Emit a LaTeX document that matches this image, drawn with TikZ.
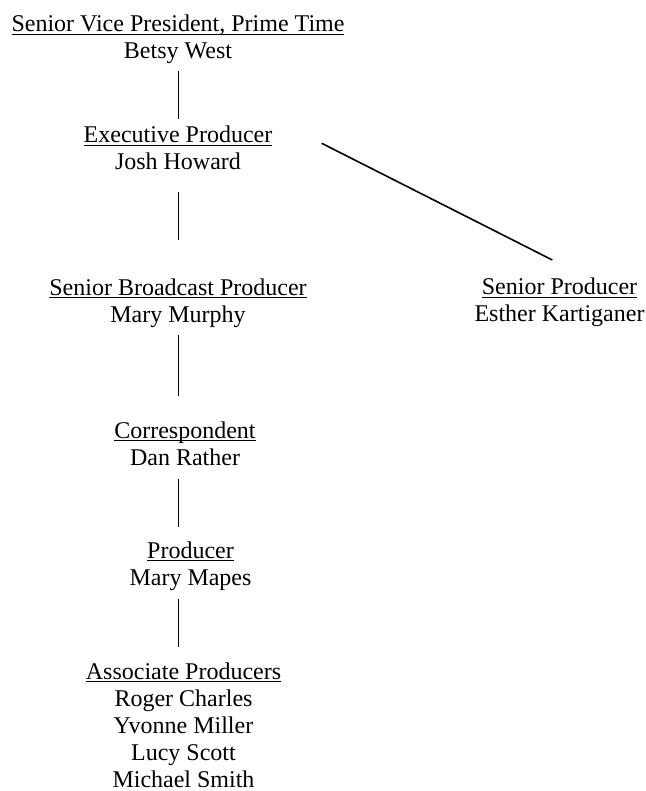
\documentclass[tikz,border=0pt]{standalone}
\usepackage{fontspec}
\setmainfont{Liberation Serif}
\usetikzlibrary{calc}
\newcommand\myul[1]{\setbox0=\hbox{#1}\rlap{\rule[-3.3pt]{\wd0}{1.2pt}}\box0}
\newcommand\blk[1]{\begin{tabular}[t]{@{}c@{}}#1\end{tabular}}
\begin{document}
\begin{tikzpicture}[x=1pt,y=-1pt,
  box/.style={anchor=base,inner sep=0pt,font=\fontsize{24}{27}\selectfont},
  link/.style={line width=1.6pt}]
\useasboundingbox (0,0) rectangle (645,791);
\node[box] (vp) at (178,31.5) {\blk{\myul{Senior Vice President, Prime Time}\\Betsy West}};
\node[box] (ep) at (178,143) {\blk{\myul{Executive Producer}\\Josh Howard}};
\node[box] (sbp) at (178,295) {\blk{\myul{Senior Broadcast Producer}\\Mary Murphy}};
\node[box] (sp) at (559.5,294.5) {\blk{\myul{Senior Producer}\\Esther Kartiganer}};
\node[box] (corr) at (185,438) {\blk{\myul{Correspondent}\\Dan Rather}};
\node[box] (prod) at (190.5,558) {\blk{\myul{Producer}\\Mary Mapes}};
\node[box] (assoc) at (183.5,679) {\blk{\myul{Associate Producers}\\Roger Charles\\Yvonne Miller\\Lucy Scott\\Michael Smith}};
\draw[link] ($(vp.base)+(0.3,39.5)$) -- ($(ep.base)+(0.3,-24)$);
\draw[link] ($(ep.base)+(0.3,48.7)$) -- ($(sbp.base)+(0.3,-55)$);
\draw[link] ($(sbp.base)+(0.3,40)$) -- ($(corr.base)+(-6.7,-42)$);
\draw[link] ($(corr.base)+(-6.7,41)$) -- ($(prod.base)+(-12.2,-31)$);
\draw[link] ($(prod.base)+(-12.2,41)$) -- ($(assoc.base)+(-5.2,-32)$);
\draw[link] ($(ep.base)+(143.7,0.3)$) -- ($(sp.base)+(-7.2,-34.5)$);
\end{tikzpicture}
\end{document}
